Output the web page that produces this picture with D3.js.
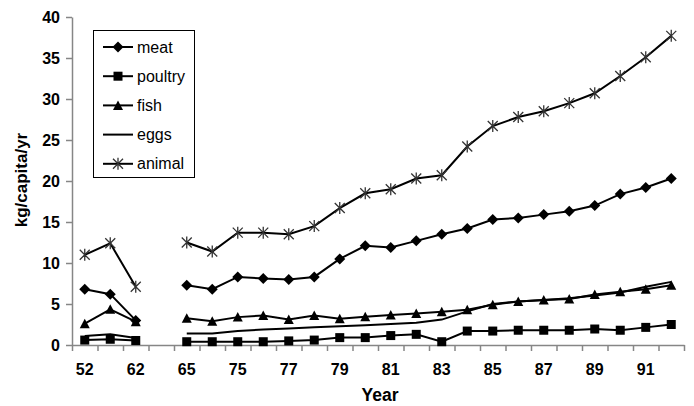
<!DOCTYPE html>
<html>
<head>
<meta charset="utf-8">
<script src="https://cdn.jsdelivr.net/npm/d3@7"></script>
<style>
  body { margin: 0; background: #fff; }
  text { font-family: Arial, "Liberation Sans", sans-serif; }
</style>
</head>
<body>
<div class="chart"></div>
<script>
// categories (the 4th one is an empty gap in the original)
const years = ["52", "57", "62", "63", "65", "70", "75", "76", "77", "78", "79", "80",
  "81", "82", "83", "84", "85", "86", "87", "88", "89", "90", "91", "92"];

const meat    = [6.8, 6.2, 3.0, null, 7.3, 6.8, 8.3, 8.1, 8.0, 8.3, 10.5, 12.1,
  11.9, 12.7, 13.5, 14.2, 15.3, 15.5, 15.9, 16.3, 17.0, 18.4, 19.2, 20.3];
const poultry = [0.6, 0.7, 0.55, null, 0.4, 0.4, 0.4, 0.4, 0.5, 0.6, 0.9, 0.9,
  1.15, 1.3, 0.4, 1.7, 1.7, 1.8, 1.8, 1.8, 1.95, 1.8, 2.15, 2.5];
const fish    = [2.6, 4.35, 2.85, null, 3.25, 2.9, 3.4, 3.6, 3.1, 3.6, 3.2, 3.45,
  3.65, 3.85, 4.05, 4.3, 4.9, 5.3, 5.5, 5.6, 6.15, 6.5, 6.8, 7.3];
const eggs    = [1.1, 1.3, 0.85, null, 1.4, 1.4, 1.7, 1.9, 2.0, 2.15, 2.3, 2.4,
  2.55, 2.7, 3.1, 4.1, 5.0, 5.3, 5.5, 5.7, 6.05, 6.4, 7.1, 7.7];
const animal  = [11.0, 12.4, 7.1, null, 12.5, 11.4, 13.7, 13.7, 13.5, 14.5, 16.7, 18.5,
  19.0, 20.3, 20.7, 24.2, 26.7, 27.8, 28.5, 29.5, 30.7, 32.8, 35.1, 37.7];

const yTicks = [0, 5, 10, 15, 20, 25, 30, 35, 40];

const series = [
  { name: "meat", values: meat, marker: "diamond" },
  { name: "poultry", values: poultry, marker: "square" },
  { name: "fish", values: fish, marker: "triangle" },
  { name: "eggs", values: eggs, marker: "none" },
  { name: "animal", values: animal, marker: "star" }
];

const W = 694, H = 406;
const mLeft = 72, mRight = 684, mTop = 17, mBottom = 345;

const svg = d3.select(".chart").append("svg")
  .attr("width", W).attr("height", H);

const x = d3.scaleBand().domain(years).range([mLeft, mRight]);
const xb = d3.scaleLinear().domain([0, years.length]).range([mLeft, mRight]);
const y = d3.scaleLinear().domain([0, 40]).range([mBottom, mTop]);
const cx = d => x(d) + x.bandwidth() / 2;

// y axis
const yAxis = svg.append("g")
  .attr("transform", `translate(${mLeft},0)`)
  .call(d3.axisLeft(y).tickValues(yTicks).tickSize(6).tickPadding(6).tickSizeOuter(0));
yAxis.selectAll("path, line").attr("stroke", "#868686").attr("stroke-width", 1.5);
yAxis.selectAll("text").attr("font-size", 16).attr("font-weight", "bold").attr("fill", "#000");

// x axis: boundary ticks
const xTickAxis = svg.append("g")
  .attr("transform", `translate(0,${mBottom})`)
  .call(d3.axisBottom(xb).tickValues(d3.range(years.length + 1)).tickSize(6)
    .tickFormat("").tickSizeOuter(0));
xTickAxis.selectAll("path, line").attr("stroke", "#868686").attr("stroke-width", 1.5);

// x axis: labels, every other category
const xLab = svg.append("g")
  .attr("transform", `translate(0,${mBottom})`)
  .call(d3.axisBottom(x).tickSize(0).tickPadding(18.5)
    .tickFormat((d, i) => i % 2 === 0 ? d : ""));
xLab.select(".domain").remove();
xLab.selectAll("text").attr("font-size", 16).attr("font-weight", "bold").attr("fill", "#000");

// axis titles
svg.append("text")
  .attr("x", 380).attr("y", 401)
  .attr("text-anchor", "middle")
  .attr("font-size", 17.5).attr("font-weight", "bold")
  .text("Year");

svg.append("text")
  .attr("transform", "translate(27,180) rotate(-90)")
  .attr("text-anchor", "middle")
  .attr("font-size", 17).attr("font-weight", "bold")
  .text("kg/capita/yr");

// markers
function drawMarker(g, type) {
  if (type === "diamond") {
    g.append("path").attr("d", "M0,-5.5L5.5,0L0,5.5L-5.5,0Z").attr("fill", "#000");
  } else if (type === "square") {
    g.append("rect").attr("x", -4.5).attr("y", -4.5).attr("width", 9).attr("height", 9).attr("fill", "#000");
  } else if (type === "triangle") {
    g.append("path").attr("d", "M0,-5L5,4.5L-5,4.5Z").attr("fill", "#000");
  } else if (type === "star") {
    g.append("path").attr("d", "M0,-6V6M-5,-5L5,5M-5,5L5,-5")
      .attr("stroke", "#333").attr("stroke-width", 1.3).attr("fill", "none");
  }
}

const line = d3.line()
  .defined(d => d.v != null)
  .x(d => cx(d.year))
  .y(d => y(d.v));

series.forEach(s => {
  const pts = years.map((yr, i) => ({ year: yr, v: s.values[i] }));
  svg.append("path")
    .datum(pts)
    .attr("d", line)
    .attr("fill", "none")
    .attr("stroke", "#000")
    .attr("stroke-width", 2);
  if (s.marker !== "none") {
    svg.append("g").selectAll("g")
      .data(pts.filter(d => d.v != null))
      .enter()
      .append("g")
      .attr("transform", d => `translate(${cx(d.year)},${y(d.v)})`)
      .each(function() { drawMarker(d3.select(this), s.marker); });
  }
});

// legend
const legend = svg.append("g");
legend.append("rect")
  .attr("x", 93.5).attr("y", 30.5).attr("width", 101).attr("height", 147)
  .attr("fill", "#fff").attr("stroke", "#000").attr("stroke-width", 1);

const item = legend.selectAll("g.item")
  .data(series)
  .enter()
  .append("g")
  .attr("class", "item")
  .attr("transform", (d, i) => `translate(0,${47 + i * 29.2})`);

item.append("line")
  .attr("x1", 103).attr("x2", 133)
  .attr("stroke", "#000").attr("stroke-width", 2);
item.append("g")
  .attr("transform", "translate(118,0)")
  .each(function(d) { drawMarker(d3.select(this), d.marker); });
item.append("text")
  .attr("x", 137).attr("dy", "0.35em")
  .attr("font-size", 16)
  .text(d => d.name);
</script>
</body>
</html>
